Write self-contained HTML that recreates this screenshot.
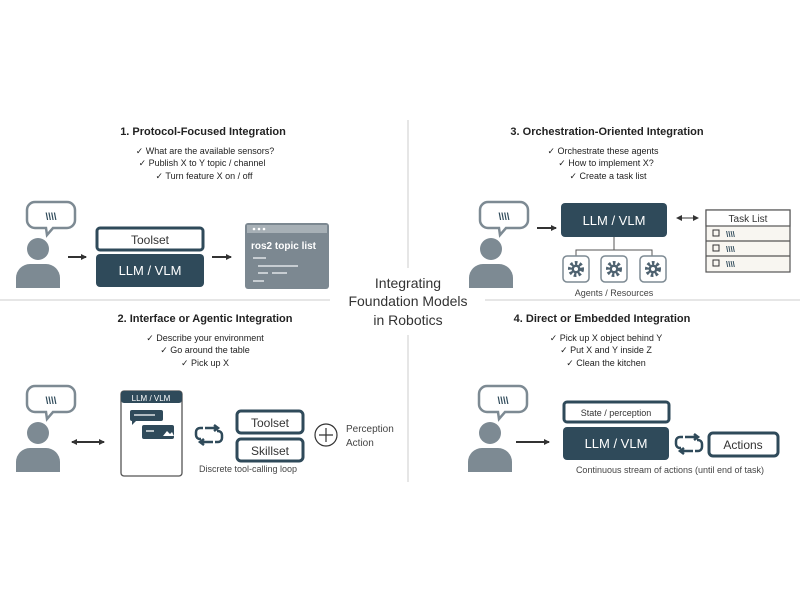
<!DOCTYPE html>
<html><head><meta charset="utf-8"><style>
html,body{margin:0;padding:0;background:#fff;}
svg{display:block;font-family:"Liberation Sans",sans-serif;}
</style></head><body>
<svg width="800" height="600" viewBox="0 0 800 600" xmlns="http://www.w3.org/2000/svg">
<defs>
<marker id="ah" markerWidth="6" markerHeight="6" refX="5" refY="3" orient="auto" markerUnits="userSpaceOnUse"><path d="M0,0 L6,3 L0,6 z" fill="#333"/></marker>
<marker id="ahs" markerWidth="6" markerHeight="6" refX="1" refY="3" orient="auto" markerUnits="userSpaceOnUse"><path d="M6,0 L0,3 L6,6 z" fill="#333"/></marker>
<g id="person">
<path d="M-20,-60 h32 a8,8 0 0 1 8,8 v10 a8,8 0 0 1 -8,8 h-14 l-6,7 l-1,-7 h-11 a8,8 0 0 1 -8,-8 v-10 a8,8 0 0 1 8,-8z" fill="#fff" stroke="#7d8a93" stroke-width="2.5"/>
<text x="-4" y="-42" font-size="10" font-weight="bold" fill="#2f4a5a" text-anchor="middle">\\\\</text>
<circle cx="-17" cy="-13" r="11" fill="#7d8a93"/>
<path d="M-39,26 v-10 a14,14 0 0 1 14,-14 h16 a14,14 0 0 1 14,14 v10z" fill="#7d8a93"/>
</g>
<g id="gear"><rect x="-13" y="-13" width="26" height="26" rx="4" fill="#fff" stroke="#7d8a93" stroke-width="1.5"/><circle r="6" fill="none" stroke="#4e6270" stroke-width="4" stroke-dasharray="2.5 2"/><circle r="4.5" fill="#4e6270"/><circle r="2" fill="#fff"/></g>
<g id="loop" fill="none" stroke="#2f4a5a" stroke-width="2.5"><path d="M-6,-7 h-3 a4,4 0 0 0 -4,4 v3 a4,4 0 0 0 4,4 h1"/><path d="M-4,-7 h12"/><path d="M6,7 h3 a4,4 0 0 0 4,-4 v-3 a4,4 0 0 0 -4,-4 h-1"/><path d="M4,7 h-12"/><path d="M5,-10 l4,3 l-4,3"/><path d="M-5,10 l-4,-3 l4,-3"/></g>
</defs>

<line x1="408" y1="120" x2="408" y2="268" stroke="#ccc" stroke-width="1"/>
<line x1="408" y1="335" x2="408" y2="482" stroke="#ccc" stroke-width="1"/>
<line x1="0" y1="300" x2="330" y2="300" stroke="#ccc" stroke-width="1"/>
<line x1="485" y1="300" x2="800" y2="300" stroke="#ccc" stroke-width="1"/>

<g text-anchor="middle" fill="#333" font-size="14">
<text x="408" y="288">Integrating</text>
<text x="408" y="306">Foundation Models</text>
<text x="408" y="325">in Robotics</text>
</g>

<g text-anchor="middle" fill="#222">
<text x="203" y="135" font-size="11" font-weight="bold">1. Protocol-Focused Integration</text>
<g font-size="9"><text x="205" y="154">✓ What are the available sensors?</text><text x="202" y="166">✓ Publish X to Y topic / channel</text><text x="204" y="179">✓ Turn feature X on / off</text></g>
</g>
<use href="#person" x="55" y="262"/>
<line x1="68" y1="257" x2="86" y2="257" stroke="#333" stroke-width="2" marker-end="url(#ah)"/>
<rect x="97" y="228" width="106" height="22" rx="3" fill="#fff" stroke="#2f4a5a" stroke-width="3"/>
<text x="150" y="244" font-size="12" text-anchor="middle" fill="#333">Toolset</text>
<rect x="96" y="254" width="108" height="33" rx="4" fill="#2f4a5a"/>
<text x="150" y="275" font-size="13" text-anchor="middle" fill="#fff">LLM / VLM</text>
<line x1="212" y1="257" x2="231" y2="257" stroke="#333" stroke-width="2" marker-end="url(#ah)"/>
<rect x="245" y="223" width="84" height="66" rx="3" fill="#7c8891"/>
<rect x="247" y="225" width="80" height="8" fill="#a7b0b6"/>
<g fill="#fff"><circle cx="254" cy="229" r="1.3"/><circle cx="259" cy="229" r="1.3"/><circle cx="264" cy="229" r="1.3"/></g>
<text x="251" y="249" font-size="10" font-weight="bold" fill="#fff">ros2 topic list</text>
<g stroke="#e0e4e7" stroke-width="1.5"><line x1="253" y1="258" x2="266" y2="258"/><line x1="258" y1="266" x2="298" y2="266"/><line x1="258" y1="273" x2="268" y2="273"/><line x1="272" y1="273" x2="287" y2="273"/><line x1="253" y1="281" x2="264" y2="281"/></g>

<g text-anchor="middle" fill="#222">
<text x="607" y="135" font-size="11" font-weight="bold">3. Orchestration-Oriented Integration</text>
<g font-size="9"><text x="603" y="154">✓ Orchestrate these agents</text><text x="606" y="166">✓ How to implement X?</text><text x="608" y="179">✓ Create a task list</text></g>
</g>
<use href="#person" x="508" y="262"/>
<line x1="537" y1="228" x2="556" y2="228" stroke="#333" stroke-width="2" marker-end="url(#ah)"/>
<rect x="561" y="203" width="106" height="34" rx="4" fill="#2f4a5a"/>
<text x="614" y="225" font-size="13" text-anchor="middle" fill="#fff">LLM / VLM</text>
<line x1="677" y1="218" x2="698" y2="218" stroke="#333" stroke-width="1" marker-end="url(#ah)" marker-start="url(#ahs)"/>
<g stroke="#555" stroke-width="1" fill="none"><line x1="614" y1="237" x2="614" y2="250"/><path d="M576,256 v-6 h76 v6"/></g>
<use href="#gear" x="576" y="269"/><use href="#gear" x="614" y="269"/><use href="#gear" x="653" y="269"/>
<text x="614" y="296" font-size="9" text-anchor="middle" fill="#444">Agents / Resources</text>
<rect x="706" y="210" width="84" height="62" fill="#f8f6f1" stroke="#555" stroke-width="1.2"/>
<rect x="706" y="210" width="84" height="16" fill="#fff" stroke="#555" stroke-width="1.2"/>
<text x="748" y="222" font-size="10" text-anchor="middle" fill="#333">Task List</text>
<g stroke="#555" stroke-width="1.2"><line x1="706" y1="241" x2="790" y2="241"/><line x1="706" y1="256" x2="790" y2="256"/></g>
<g font-size="8" font-weight="bold" fill="#2f4a5a"><text x="726" y="237">\\\\</text><text x="726" y="252">\\\\</text><text x="726" y="267">\\\\</text></g>
<g fill="none" stroke="#333" stroke-width="1"><rect x="713" y="230" width="6" height="6"/><rect x="713" y="245" width="6" height="6"/><rect x="713" y="260" width="6" height="6"/></g>

<g text-anchor="middle" fill="#222">
<text x="205" y="322" font-size="11" font-weight="bold">2. Interface or Agentic Integration</text>
<g font-size="9"><text x="205" y="341">✓ Describe your environment</text><text x="205" y="353">✓ Go around the table</text><text x="205" y="366">✓ Pick up X</text></g>
</g>
<use href="#person" x="55" y="446"/>
<line x1="72" y1="442" x2="104" y2="442" stroke="#333" stroke-width="2" marker-end="url(#ah)" marker-start="url(#ahs)"/>
<rect x="121" y="391" width="61" height="85" rx="3" fill="#fff" stroke="#555" stroke-width="1.3"/>
<rect x="121" y="391" width="61" height="12" rx="3" fill="#2f4a5a"/>
<text x="151" y="401" font-size="8" text-anchor="middle" fill="#fff">LLM / VLM</text>
<rect x="130" y="410" width="33" height="11" rx="2" fill="#2f4a5a"/><path d="M132,421 v4 l4,-4z" fill="#2f4a5a"/>
<rect x="142" y="425" width="32" height="14" rx="2" fill="#2f4a5a"/>
<path d="M163,436 l4,-5 l3,3 l2,-2 l2,4z" fill="#fff"/>
<line x1="146" y1="431" x2="154" y2="431" stroke="#fff" stroke-width="1.3"/>
<line x1="134" y1="415" x2="155" y2="415" stroke="#fff" stroke-width="1.2"/>
<use href="#loop" x="209" y="435"/>
<rect x="237" y="411" width="66" height="22" rx="4" fill="#fff" stroke="#2f4a5a" stroke-width="3"/>
<text x="270" y="427" font-size="12" text-anchor="middle" fill="#333">Toolset</text>
<rect x="237" y="439" width="66" height="22" rx="4" fill="#fff" stroke="#2f4a5a" stroke-width="3"/>
<text x="270" y="455" font-size="12" text-anchor="middle" fill="#333">Skillset</text>
<circle cx="326" cy="435" r="11" fill="none" stroke="#333" stroke-width="1.2"/>
<path d="M326,428 v14 M319,435 h14" stroke="#333" stroke-width="1.2"/>
<text x="346" y="432" font-size="10" fill="#444">Perception</text>
<text x="346" y="446" font-size="10" fill="#444">Action</text>
<text x="248" y="472" font-size="9" text-anchor="middle" fill="#444">Discrete tool-calling loop</text>

<g text-anchor="middle" fill="#222">
<text x="602" y="322" font-size="11" font-weight="bold">4. Direct or Embedded Integration</text>
<g font-size="9"><text x="606" y="341">✓ Pick up X object behind Y</text><text x="606" y="353">✓ Put X and Y inside Z</text><text x="606" y="366">✓ Clean the kitchen</text></g>
</g>
<use href="#person" x="507" y="446"/>
<line x1="516" y1="442" x2="549" y2="442" stroke="#333" stroke-width="2" marker-end="url(#ah)"/>
<rect x="564" y="402" width="105" height="20" rx="3" fill="#fff" stroke="#2f4a5a" stroke-width="3"/>
<text x="616" y="416" font-size="9" text-anchor="middle" fill="#333">State / perception</text>
<rect x="563" y="427" width="106" height="33" rx="4" fill="#2f4a5a"/>
<text x="616" y="448" font-size="13" text-anchor="middle" fill="#fff">LLM / VLM</text>
<use href="#loop" x="689" y="444"/>
<rect x="709" y="433" width="69" height="23" rx="4" fill="#fff" stroke="#2f4a5a" stroke-width="3"/>
<text x="743" y="449" font-size="12" text-anchor="middle" fill="#333">Actions</text>
<text x="670" y="473" font-size="9" text-anchor="middle" fill="#444">Continuous stream of actions (until end of task)</text>
</svg>
</body></html>
